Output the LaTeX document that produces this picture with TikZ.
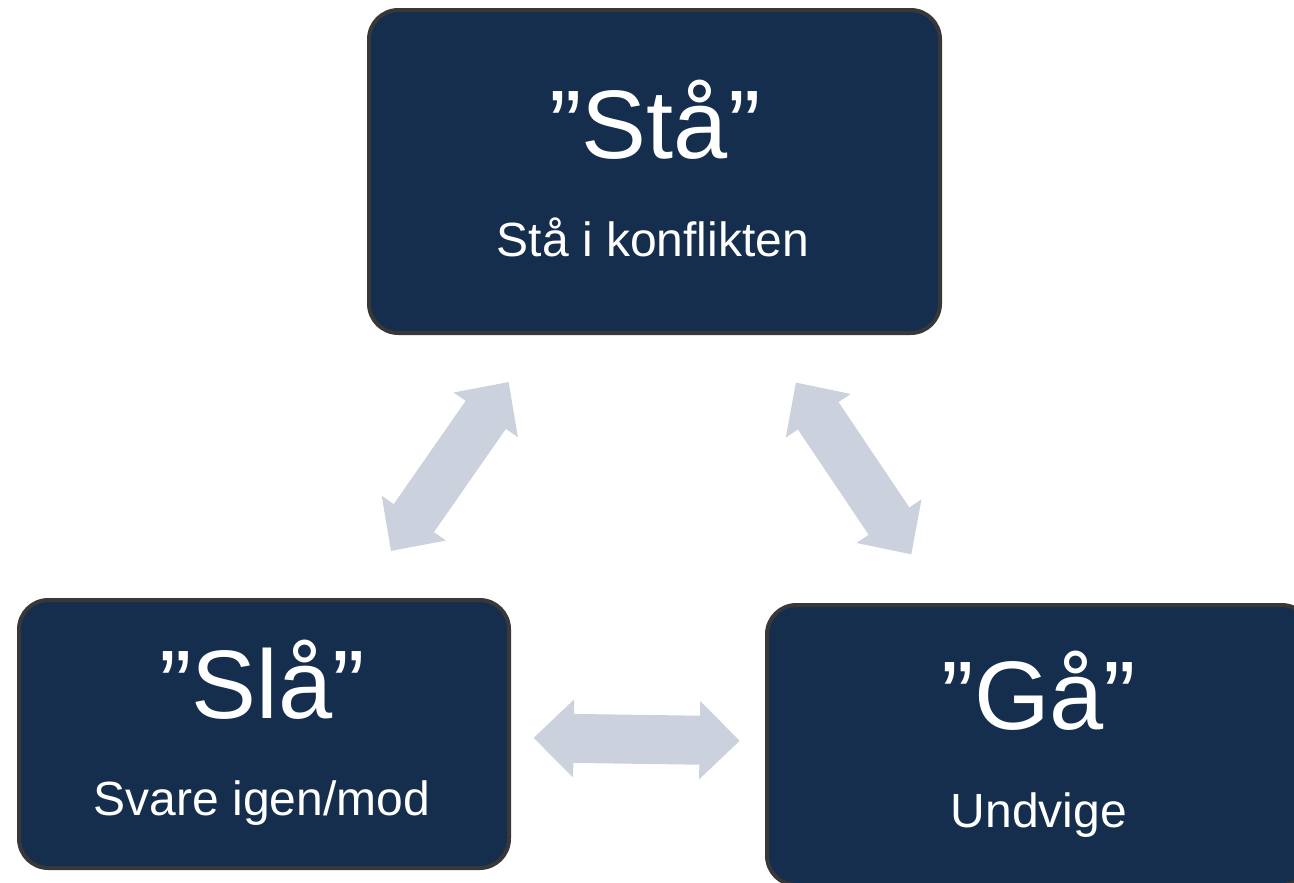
\documentclass[tikz,border=0pt]{standalone}
\usepackage{fontspec}
\setmainfont{Liberation Sans}
\usepackage{xcolor}
\usepackage{tikz}
\usetikzlibrary{arrows.meta, positioning}

\definecolor{boxnavy}{RGB}{21,46,77}
\definecolor{boxedge}{RGB}{56,56,56}
\definecolor{arrowgray}{RGB}{203,210,221}

\begin{document}
\begin{tikzpicture}[x=0.75pt, y=-0.75pt,
    modebox/.style={rectangle, rounded corners=22pt, draw=boxedge, line width=3pt, fill=boxnavy},
    bigword/.style={anchor=base, text=white, inner sep=0pt, font=\fontsize{73}{80}\selectfont},
    smallword/.style={anchor=base, text=white, inner sep=0pt, font=\fontsize{36}{40}\selectfont},
    flowarrow/.style={draw=arrowgray, line width=36.75pt,
        {Triangle[length=30pt, width=58.5pt, line width=1.2pt]}-{Triangle[length=30pt, width=58.5pt, line width=1.2pt]}}]
    \useasboundingbox (0,0) rectangle (1294,882);

    \node[modebox, minimum width=428.25pt, minimum height=242.25pt] (sta) at (654.5,171.5) {};
    \node[modebox, minimum width=367.5pt, minimum height=201pt] (sla) at (264,734) {};
    \node[modebox, minimum width=408pt, minimum height=210pt] (gaa) at (1039,745) {};

    \node[bigword] (staword) at (655,158) {”Stå”};
    \node[smallword] (statext) at (653,256) {Stå i konflikten};
    \node[bigword] (slaword) at (262,718) {”Slå”};
    \node[smallword] (slatext) at (262,815) {Svare igen/mod};
    \node[bigword] (gaaword) at (1039,729) {”Gå”};
    \node[smallword] (gaatext) at (1039,827) {Undvige};

    \draw[flowarrow, shorten <=43pt, shorten >=43pt] (sta) -- (sla);
    \draw[flowarrow, shorten <=43pt, shorten >=44pt] (sta) -- (gaa);
    \draw[flowarrow, shorten <=17pt, shorten >=19pt] (sla) -- (gaa);
\end{tikzpicture}
\end{document}
